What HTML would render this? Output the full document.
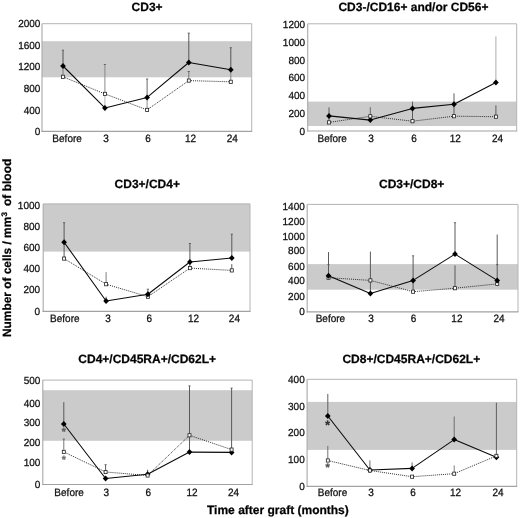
<!DOCTYPE html>
<html lang="en"><head><meta charset="utf-8"><title>Lymphocyte subsets after graft</title>
<style>
html,body{margin:0;padding:0;background:#fff;}
body{width:520px;height:518px;overflow:hidden;}
svg{display:block;filter:blur(0.4px);}
text{font-family:"Liberation Sans",sans-serif;fill:#101010;stroke:#101010;stroke-width:0.26px;text-rendering:geometricPrecision;}
.t{font-weight:bold;font-size:12px;text-anchor:middle;fill:#000;}
.yl{font-size:10px;text-anchor:end;}
.xl{font-size:10px;text-anchor:middle;}
.st{font-weight:bold;text-anchor:middle;stroke-width:0.3px;}
</style></head><body>
<svg width="520" height="518" viewBox="0 0 520 518">
<rect x="0" y="0" width="520" height="518" fill="#ffffff"/>
<g>
<rect x="42" y="41.2" width="209.7" height="36.1" fill="#cbcbcb"/>
<path d="M42 23.7H251.7V131.3" fill="none" stroke="#b4b4b4" stroke-width="1"/>
<path d="M42 23.7V131.8" fill="none" stroke="#acacac" stroke-width="1.15"/>
<path d="M41.5 131.3H252.2" fill="none" stroke="#a2a2a2" stroke-width="1.15"/>
<line x1="63" y1="50.2" x2="63" y2="66" stroke="#4a4a4a" stroke-width="0.95"/>
<line x1="63" y1="66" x2="63" y2="76.8" stroke="#707070" stroke-width="0.95"/>
<line x1="104.9" y1="64.5" x2="104.9" y2="93.9" stroke="#858585" stroke-width="0.95"/>
<line x1="104.9" y1="96" x2="104.9" y2="107.9" stroke="#b0b0b0" stroke-width="0.95"/>
<line x1="147.1" y1="79" x2="147.1" y2="97.4" stroke="#606060" stroke-width="0.95"/>
<line x1="147.1" y1="97.4" x2="147.1" y2="109.9" stroke="#888" stroke-width="0.95"/>
<line x1="188.8" y1="33.1" x2="188.8" y2="62.5" stroke="#505050" stroke-width="0.95"/>
<line x1="188.8" y1="71.5" x2="188.8" y2="80.6" stroke="#707070" stroke-width="0.95"/>
<line x1="230.8" y1="47.7" x2="230.8" y2="69.8" stroke="#505050" stroke-width="0.95"/>
<line x1="230.8" y1="69.8" x2="230.8" y2="81.8" stroke="#808080" stroke-width="0.95"/>
<line x1="61.9" y1="50.2" x2="64.1" y2="50.2" stroke="#525252" stroke-width="0.8"/>
<line x1="103.8" y1="64.5" x2="106" y2="64.5" stroke="#525252" stroke-width="0.8"/>
<line x1="146" y1="79" x2="148.2" y2="79" stroke="#525252" stroke-width="0.8"/>
<line x1="187.7" y1="33.1" x2="189.9" y2="33.1" stroke="#525252" stroke-width="0.8"/>
<line x1="187.7" y1="71.5" x2="189.9" y2="71.5" stroke="#525252" stroke-width="0.8"/>
<line x1="229.7" y1="47.7" x2="231.9" y2="47.7" stroke="#525252" stroke-width="0.8"/>
<polyline points="63,76.8 104.9,93.9 147.1,109.9 188.8,80.6 230.8,81.8" fill="none" stroke="#2c2c2c" stroke-width="0.95" stroke-dasharray="1.05 1"/>
<polyline points="63,66 104.9,107.9 147.1,97.4 188.8,62.5 230.8,69.8" fill="none" stroke="#0a0a0a" stroke-width="1.08" stroke-linejoin="round"/>
<path d="M63 63l2.85 3l-2.85 3l-2.85 -3z" fill="#000"/>
<path d="M104.9 104.9l2.85 3l-2.85 3l-2.85 -3z" fill="#000"/>
<path d="M147.1 94.4l2.85 3l-2.85 3l-2.85 -3z" fill="#000"/>
<path d="M188.8 59.5l2.85 3l-2.85 3l-2.85 -3z" fill="#000"/>
<path d="M230.8 66.8l2.85 3l-2.85 3l-2.85 -3z" fill="#000"/>
<rect x="61.5" y="75.2" width="3" height="3.2" fill="#fff" stroke="#222" stroke-width="0.8"/>
<rect x="103.4" y="92.3" width="3" height="3.2" fill="#fff" stroke="#222" stroke-width="0.8"/>
<rect x="145.6" y="108.3" width="3" height="3.2" fill="#fff" stroke="#222" stroke-width="0.8"/>
<rect x="187.3" y="79" width="3" height="3.2" fill="#fff" stroke="#222" stroke-width="0.8"/>
<rect x="229.3" y="80.2" width="3" height="3.2" fill="#fff" stroke="#222" stroke-width="0.8"/>
<text class="t" x="147.1" y="11.1">CD3+</text>
<text class="yl" transform="translate(40.4 27.42) scale(1 1.03)">2000</text>
<text class="yl" transform="translate(40.4 48.62) scale(1 1.03)">1600</text>
<text class="yl" transform="translate(40.4 70.17) scale(1 1.03)">1200</text>
<text class="yl" transform="translate(40.4 91.77) scale(1 1.03)">800</text>
<text class="yl" transform="translate(40.4 113.77) scale(1 1.03)">400</text>
<text class="yl" transform="translate(40.4 135.02) scale(1 1.03)">0</text>
<text class="xl" transform="translate(67.1 141.9) scale(1 1.065)">Before</text>
<text class="xl" transform="translate(106 141.9) scale(1 1.065)">3</text>
<text class="xl" transform="translate(148 141.9) scale(1 1.065)">6</text>
<text class="xl" transform="translate(190.5 141.9) scale(1 1.065)">12</text>
<text class="xl" transform="translate(232.3 141.9) scale(1 1.065)">24</text>
</g>
<g>
<rect x="307.7" y="101.6" width="209" height="24.4" fill="#cbcbcb"/>
<path d="M307.7 23.8H516.7V131" fill="none" stroke="#b4b4b4" stroke-width="1"/>
<path d="M307.7 23.8V131.5" fill="none" stroke="#acacac" stroke-width="1.15"/>
<path d="M307.2 131H517.2" fill="none" stroke="#a2a2a2" stroke-width="1.15"/>
<line x1="329" y1="107.4" x2="329" y2="122.2" stroke="#555" stroke-width="0.95"/>
<line x1="370.3" y1="107.2" x2="370.3" y2="120" stroke="#666" stroke-width="0.95"/>
<line x1="412.5" y1="101.6" x2="412.5" y2="121.2" stroke="#555" stroke-width="0.95"/>
<line x1="454" y1="93.4" x2="454" y2="116.2" stroke="#555" stroke-width="0.95"/>
<line x1="495.9" y1="36.4" x2="495.9" y2="82.1" stroke="#a6a6a6" stroke-width="0.95"/>
<line x1="495.9" y1="105.4" x2="495.9" y2="116.7" stroke="#555" stroke-width="0.95"/>
<polyline points="329,122.4 370.3,116.3 412.5,121.2 454,116.2 495.9,116.7" fill="none" stroke="#2c2c2c" stroke-width="0.95" stroke-dasharray="1.05 1"/>
<polyline points="329,115.9 370.3,120.1 412.5,108.4 454,104.3 495.9,82.4" fill="none" stroke="#0a0a0a" stroke-width="1.08" stroke-linejoin="round"/>
<path d="M329 112.9l2.85 3l-2.85 3l-2.85 -3z" fill="#000"/>
<path d="M370.3 117.1l2.85 3l-2.85 3l-2.85 -3z" fill="#000"/>
<path d="M412.5 105.4l2.85 3l-2.85 3l-2.85 -3z" fill="#000"/>
<path d="M454 101.3l2.85 3l-2.85 3l-2.85 -3z" fill="#000"/>
<path d="M495.9 79.4l2.85 3l-2.85 3l-2.85 -3z" fill="#000"/>
<rect x="327.5" y="120.8" width="3" height="3.2" fill="#fff" stroke="#222" stroke-width="0.8"/>
<rect x="368.8" y="114.7" width="3" height="3.2" fill="#fff" stroke="#222" stroke-width="0.8"/>
<rect x="411" y="119.6" width="3" height="3.2" fill="#fff" stroke="#222" stroke-width="0.8"/>
<rect x="452.5" y="114.6" width="3" height="3.2" fill="#fff" stroke="#222" stroke-width="0.8"/>
<rect x="494.4" y="115.1" width="3" height="3.2" fill="#fff" stroke="#222" stroke-width="0.8"/>
<text class="t" x="413.4" y="11.1">CD3-/CD16+ and/or CD56+</text>
<text class="yl" transform="translate(305.1 27.52) scale(1 1.03)">1200</text>
<text class="yl" transform="translate(305.1 45.92) scale(1 1.03)">1000</text>
<text class="yl" transform="translate(305.1 64.02) scale(1 1.03)">800</text>
<text class="yl" transform="translate(305.1 81.22) scale(1 1.03)">600</text>
<text class="yl" transform="translate(305.1 98.72) scale(1 1.03)">400</text>
<text class="yl" transform="translate(305.1 116.62) scale(1 1.03)">200</text>
<text class="yl" transform="translate(305.1 134.92) scale(1 1.03)">0</text>
<text class="xl" transform="translate(332.2 142.2) scale(1 1.065)">Before</text>
<text class="xl" transform="translate(371 142.2) scale(1 1.065)">3</text>
<text class="xl" transform="translate(414 142.2) scale(1 1.065)">6</text>
<text class="xl" transform="translate(455.3 142.2) scale(1 1.065)">12</text>
<text class="xl" transform="translate(497.5 142.2) scale(1 1.065)">24</text>
</g>
<g>
<rect x="43.2" y="203.9" width="206.8" height="47.7" fill="#cbcbcb"/>
<path d="M43.2 203.9H250V311.4" fill="none" stroke="#b4b4b4" stroke-width="1"/>
<path d="M43.2 203.9V311.9" fill="none" stroke="#acacac" stroke-width="1.15"/>
<path d="M42.7 311.4H250.5" fill="none" stroke="#a2a2a2" stroke-width="1.15"/>
<line x1="64.1" y1="222.7" x2="64.1" y2="258.6" stroke="#525252" stroke-width="0.95"/>
<line x1="106.1" y1="272.1" x2="106.1" y2="284.2" stroke="#777" stroke-width="0.95"/>
<line x1="106.1" y1="296.7" x2="106.1" y2="301" stroke="#525252" stroke-width="0.95"/>
<line x1="147.9" y1="289.2" x2="147.9" y2="296.7" stroke="#525252" stroke-width="0.95"/>
<line x1="189.9" y1="243.5" x2="189.9" y2="268.1" stroke="#525252" stroke-width="0.95"/>
<line x1="231.8" y1="234.2" x2="231.8" y2="257.8" stroke="#525252" stroke-width="0.95"/>
<line x1="231.8" y1="264.1" x2="231.8" y2="270.4" stroke="#525252" stroke-width="0.95"/>
<line x1="63" y1="222.7" x2="65.2" y2="222.7" stroke="#525252" stroke-width="0.8"/>
<line x1="188.8" y1="243.5" x2="191" y2="243.5" stroke="#525252" stroke-width="0.8"/>
<line x1="230.7" y1="234.2" x2="232.9" y2="234.2" stroke="#525252" stroke-width="0.8"/>
<line x1="146.8" y1="289.2" x2="149" y2="289.2" stroke="#525252" stroke-width="0.8"/>
<polyline points="64.1,258.6 106.1,284.2 147.9,296.7 189.9,268.1 231.8,270.4" fill="none" stroke="#2c2c2c" stroke-width="0.95" stroke-dasharray="1.05 1"/>
<polyline points="64.1,242.2 106.1,301 147.9,294.3 189.9,262 231.8,258" fill="none" stroke="#0a0a0a" stroke-width="1.08" stroke-linejoin="round"/>
<rect x="62.6" y="257" width="3" height="3.2" fill="#fff" stroke="#222" stroke-width="0.8"/>
<rect x="104.6" y="282.6" width="3" height="3.2" fill="#fff" stroke="#222" stroke-width="0.8"/>
<rect x="146.4" y="295.1" width="3" height="3.2" fill="#fff" stroke="#222" stroke-width="0.8"/>
<rect x="188.4" y="266.5" width="3" height="3.2" fill="#fff" stroke="#222" stroke-width="0.8"/>
<rect x="230.3" y="268.8" width="3" height="3.2" fill="#fff" stroke="#222" stroke-width="0.8"/>
<path d="M64.1 239.2l2.85 3l-2.85 3l-2.85 -3z" fill="#000"/>
<path d="M106.1 298l2.85 3l-2.85 3l-2.85 -3z" fill="#000"/>
<path d="M147.9 291.3l2.85 3l-2.85 3l-2.85 -3z" fill="#000"/>
<path d="M189.9 259l2.85 3l-2.85 3l-2.85 -3z" fill="#000"/>
<path d="M231.8 255l2.85 3l-2.85 3l-2.85 -3z" fill="#000"/>
<text class="t" x="147.3" y="188.4">CD3+/CD4+</text>
<text class="yl" transform="translate(40.1 209.32) scale(1 1.03)">1000</text>
<text class="yl" transform="translate(40.1 229.82) scale(1 1.03)">800</text>
<text class="yl" transform="translate(40.1 250.62) scale(1 1.03)">600</text>
<text class="yl" transform="translate(40.1 272.12) scale(1 1.03)">400</text>
<text class="yl" transform="translate(40.1 293.02) scale(1 1.03)">200</text>
<text class="yl" transform="translate(40.1 314.92) scale(1 1.03)">0</text>
<text class="xl" transform="translate(64.8 321.5) scale(1 1.065)">Before</text>
<text class="xl" transform="translate(108 321.5) scale(1 1.065)">3</text>
<text class="xl" transform="translate(149.4 321.5) scale(1 1.065)">6</text>
<text class="xl" transform="translate(193.5 321.5) scale(1 1.065)">12</text>
<text class="xl" transform="translate(234.4 321.5) scale(1 1.065)">24</text>
</g>
<g>
<rect x="307.2" y="264.1" width="210.8" height="25.6" fill="#cbcbcb"/>
<path d="M307.2 204.4H518V311.9" fill="none" stroke="#b4b4b4" stroke-width="1"/>
<path d="M307.2 204.4V312.4" fill="none" stroke="#acacac" stroke-width="1.15"/>
<path d="M306.7 311.9H518.5" fill="none" stroke="#a2a2a2" stroke-width="1.15"/>
<line x1="328.5" y1="252.1" x2="328.5" y2="277.4" stroke="#525252" stroke-width="0.95"/>
<line x1="370.4" y1="251.6" x2="370.4" y2="293.5" stroke="#525252" stroke-width="0.95"/>
<line x1="413.1" y1="255.8" x2="413.1" y2="291.7" stroke="#525252" stroke-width="0.95"/>
<line x1="455" y1="222.7" x2="455" y2="254.1" stroke="#525252" stroke-width="0.95"/>
<line x1="455" y1="265.4" x2="455" y2="288.2" stroke="#525252" stroke-width="0.95"/>
<line x1="497.2" y1="234.5" x2="497.2" y2="283.9" stroke="#525252" stroke-width="0.95"/>
<line x1="327.4" y1="264.6" x2="329.6" y2="264.6" stroke="#525252" stroke-width="0.8"/>
<line x1="412" y1="255.8" x2="414.2" y2="255.8" stroke="#525252" stroke-width="0.8"/>
<line x1="453.9" y1="222.7" x2="456.1" y2="222.7" stroke="#525252" stroke-width="0.8"/>
<line x1="496.1" y1="264.6" x2="498.3" y2="264.6" stroke="#525252" stroke-width="0.8"/>
<polyline points="328.5,277.7 370.4,280.4 413.1,291.7 455,288.2 497.2,283.9" fill="none" stroke="#2c2c2c" stroke-width="0.95" stroke-dasharray="1.05 1"/>
<polyline points="328.5,275.8 370.4,293.5 413.1,280.4 455,254.1 497.2,280.4" fill="none" stroke="#0a0a0a" stroke-width="1.08" stroke-linejoin="round"/>
<rect x="327" y="276.1" width="3" height="3.2" fill="#fff" stroke="#222" stroke-width="0.8"/>
<rect x="368.9" y="278.8" width="3" height="3.2" fill="#fff" stroke="#222" stroke-width="0.8"/>
<rect x="411.6" y="290.1" width="3" height="3.2" fill="#fff" stroke="#222" stroke-width="0.8"/>
<rect x="453.5" y="286.6" width="3" height="3.2" fill="#fff" stroke="#222" stroke-width="0.8"/>
<rect x="495.7" y="282.3" width="3" height="3.2" fill="#fff" stroke="#222" stroke-width="0.8"/>
<path d="M328.5 272.8l2.85 3l-2.85 3l-2.85 -3z" fill="#000"/>
<path d="M370.4 290.5l2.85 3l-2.85 3l-2.85 -3z" fill="#000"/>
<path d="M413.1 277.4l2.85 3l-2.85 3l-2.85 -3z" fill="#000"/>
<path d="M455 251.1l2.85 3l-2.85 3l-2.85 -3z" fill="#000"/>
<path d="M497.2 277.4l2.85 3l-2.85 3l-2.85 -3z" fill="#000"/>
<text class="t" x="411.7" y="188.4">CD3+/CD8+</text>
<text class="yl" transform="translate(304.8 209.82) scale(1 1.03)">1400</text>
<text class="yl" transform="translate(304.8 225.12) scale(1 1.03)">1200</text>
<text class="yl" transform="translate(304.8 240.22) scale(1 1.03)">1000</text>
<text class="yl" transform="translate(304.8 254.42) scale(1 1.03)">800</text>
<text class="yl" transform="translate(304.8 269.62) scale(1 1.03)">600</text>
<text class="yl" transform="translate(304.8 284.32) scale(1 1.03)">400</text>
<text class="yl" transform="translate(304.8 300.22) scale(1 1.03)">200</text>
<text class="yl" transform="translate(304.8 315.42) scale(1 1.03)">0</text>
<text class="xl" transform="translate(330.4 322.2) scale(1 1.065)">Before</text>
<text class="xl" transform="translate(371 322.2) scale(1 1.065)">3</text>
<text class="xl" transform="translate(413.5 322.2) scale(1 1.065)">6</text>
<text class="xl" transform="translate(456.9 322.2) scale(1 1.065)">12</text>
<text class="xl" transform="translate(499 322.2) scale(1 1.065)">24</text>
</g>
<g>
<rect x="42.8" y="390.2" width="209.4" height="50.6" fill="#cbcbcb"/>
<path d="M42.8 380.1H252.2V484.5" fill="none" stroke="#b4b4b4" stroke-width="1"/>
<path d="M42.8 380.1V485" fill="none" stroke="#acacac" stroke-width="1.15"/>
<path d="M42.3 484.5H252.7" fill="none" stroke="#a2a2a2" stroke-width="1.15"/>
<line x1="63.8" y1="402.2" x2="63.8" y2="424" stroke="#525252" stroke-width="0.95"/>
<line x1="63.8" y1="439.1" x2="63.8" y2="451.9" stroke="#707070" stroke-width="0.95"/>
<line x1="105.6" y1="464.7" x2="105.6" y2="472" stroke="#525252" stroke-width="0.95"/>
<line x1="147.6" y1="469.7" x2="147.6" y2="475.5" stroke="#525252" stroke-width="0.95"/>
<line x1="189.5" y1="385.9" x2="189.5" y2="452.1" stroke="#525252" stroke-width="0.95"/>
<line x1="231.6" y1="388.1" x2="231.6" y2="452.4" stroke="#525252" stroke-width="0.95"/>
<line x1="62.7" y1="439.1" x2="64.9" y2="439.1" stroke="#525252" stroke-width="0.8"/>
<line x1="104.5" y1="464.7" x2="106.7" y2="464.7" stroke="#525252" stroke-width="0.8"/>
<line x1="188.4" y1="385.9" x2="190.6" y2="385.9" stroke="#525252" stroke-width="0.8"/>
<line x1="230.5" y1="388.1" x2="232.7" y2="388.1" stroke="#525252" stroke-width="0.8"/>
<polyline points="63.8,451.9 105.6,472 147.6,475.5 189.5,435.3 231.6,449.6" fill="none" stroke="#2c2c2c" stroke-width="0.95" stroke-dasharray="1.05 1"/>
<polyline points="63.8,424 105.6,478.5 147.6,474.2 189.5,452.1 231.6,452.4" fill="none" stroke="#0a0a0a" stroke-width="1.08" stroke-linejoin="round"/>
<path d="M63.8 421l2.85 3l-2.85 3l-2.85 -3z" fill="#000"/>
<path d="M105.6 475.5l2.85 3l-2.85 3l-2.85 -3z" fill="#000"/>
<path d="M147.6 471.2l2.85 3l-2.85 3l-2.85 -3z" fill="#000"/>
<path d="M189.5 449.1l2.85 3l-2.85 3l-2.85 -3z" fill="#000"/>
<path d="M231.6 449.4l2.85 3l-2.85 3l-2.85 -3z" fill="#000"/>
<rect x="62.3" y="450.3" width="3" height="3.2" fill="#fff" stroke="#222" stroke-width="0.8"/>
<rect x="104.1" y="470.4" width="3" height="3.2" fill="#fff" stroke="#222" stroke-width="0.8"/>
<rect x="146.1" y="473.9" width="3" height="3.2" fill="#fff" stroke="#222" stroke-width="0.8"/>
<rect x="188" y="433.7" width="3" height="3.2" fill="#fff" stroke="#222" stroke-width="0.8"/>
<rect x="230.1" y="448" width="3" height="3.2" fill="#fff" stroke="#222" stroke-width="0.8"/>
<text class="st" x="63.8" y="435.42" style="fill:#606060;stroke:#606060;font-size:10.5px">*</text>
<text class="st" x="63.8" y="462.92" style="fill:#707070;stroke:#707070;font-size:10.5px">*</text>
<text class="t" x="147.2" y="362.6">CD4+/CD45RA+/CD62L+</text>
<text class="yl" transform="translate(40.4 384.32) scale(1 1.03)">500</text>
<text class="yl" transform="translate(40.4 406.52) scale(1 1.03)">400</text>
<text class="yl" transform="translate(40.4 425.52) scale(1 1.03)">300</text>
<text class="yl" transform="translate(40.4 445.62) scale(1 1.03)">200</text>
<text class="yl" transform="translate(40.4 466.42) scale(1 1.03)">100</text>
<text class="yl" transform="translate(40.4 488.42) scale(1 1.03)">0</text>
<text class="xl" transform="translate(69.1 495.7) scale(1 1.065)">Before</text>
<text class="xl" transform="translate(106.4 495.7) scale(1 1.065)">3</text>
<text class="xl" transform="translate(148.3 495.7) scale(1 1.065)">6</text>
<text class="xl" transform="translate(192 495.7) scale(1 1.065)">12</text>
<text class="xl" transform="translate(233.6 495.7) scale(1 1.065)">24</text>
</g>
<g>
<rect x="307.1" y="401.9" width="209.6" height="48" fill="#cbcbcb"/>
<path d="M307.1 379.3H516.7V486.4" fill="none" stroke="#b4b4b4" stroke-width="1"/>
<path d="M307.1 379.3V486.9" fill="none" stroke="#acacac" stroke-width="1.15"/>
<path d="M306.6 486.4H517.2" fill="none" stroke="#a2a2a2" stroke-width="1.15"/>
<line x1="327.8" y1="393.9" x2="327.8" y2="416" stroke="#5a5a5a" stroke-width="0.95"/>
<line x1="327.8" y1="445.9" x2="327.8" y2="460.5" stroke="#6a6a6a" stroke-width="0.95"/>
<line x1="369.9" y1="460.4" x2="369.9" y2="470" stroke="#666" stroke-width="0.95"/>
<line x1="412.1" y1="462.4" x2="412.1" y2="468.4" stroke="#666" stroke-width="0.95"/>
<line x1="454.2" y1="416.5" x2="454.2" y2="439.6" stroke="#6a6a6a" stroke-width="0.95"/>
<line x1="454.2" y1="465.4" x2="454.2" y2="473.7" stroke="#777" stroke-width="0.95"/>
<line x1="496.4" y1="402.7" x2="496.4" y2="457.2" stroke="#5a5a5a" stroke-width="0.95"/>
<polyline points="327.8,460.5 369.9,470.5 412.1,476.7 454.2,473.7 496.4,455.9" fill="none" stroke="#2c2c2c" stroke-width="0.95" stroke-dasharray="1.05 1"/>
<polyline points="327.8,416 369.9,470 412.1,468.4 454.2,439.6 496.4,457.2" fill="none" stroke="#0a0a0a" stroke-width="1.08" stroke-linejoin="round"/>
<path d="M327.8 413l2.85 3l-2.85 3l-2.85 -3z" fill="#000"/>
<path d="M369.9 467l2.85 3l-2.85 3l-2.85 -3z" fill="#000"/>
<path d="M412.1 465.4l2.85 3l-2.85 3l-2.85 -3z" fill="#000"/>
<path d="M454.2 436.6l2.85 3l-2.85 3l-2.85 -3z" fill="#000"/>
<path d="M496.4 454.2l2.85 3l-2.85 3l-2.85 -3z" fill="#000"/>
<rect x="326.3" y="458.9" width="3" height="3.2" fill="#fff" stroke="#222" stroke-width="0.8"/>
<rect x="368.4" y="468.9" width="3" height="3.2" fill="#fff" stroke="#222" stroke-width="0.8"/>
<rect x="410.6" y="475.1" width="3" height="3.2" fill="#fff" stroke="#222" stroke-width="0.8"/>
<rect x="452.7" y="472.1" width="3" height="3.2" fill="#fff" stroke="#222" stroke-width="0.8"/>
<rect x="494.9" y="454.3" width="3" height="3.2" fill="#fff" stroke="#222" stroke-width="0.8"/>
<text class="st" x="327.7" y="429.22" style="fill:#303030;stroke:#303030;font-size:12px">*</text>
<text class="st" x="327.7" y="471.08" style="fill:#555555;stroke:#555555;font-size:11px">*</text>
<text class="t" x="411.3" y="362.6">CD8+/CD45RA+/CD62L+</text>
<text class="yl" transform="translate(304.7 383.02) scale(1 1.03)">400</text>
<text class="yl" transform="translate(304.7 410.12) scale(1 1.03)">300</text>
<text class="yl" transform="translate(304.7 436.22) scale(1 1.03)">200</text>
<text class="yl" transform="translate(304.7 463.22) scale(1 1.03)">100</text>
<text class="yl" transform="translate(304.7 490.02) scale(1 1.03)">0</text>
<text class="xl" transform="translate(332.5 496.2) scale(1 1.065)">Before</text>
<text class="xl" transform="translate(371 496.2) scale(1 1.065)">3</text>
<text class="xl" transform="translate(413 496.2) scale(1 1.065)">6</text>
<text class="xl" transform="translate(455.5 496.2) scale(1 1.065)">12</text>
<text class="xl" transform="translate(498 496.2) scale(1 1.065)">24</text>
</g>
<text class="t" x="277.9" y="513.8">Time after graft (months)</text>
<g transform="translate(11 0) rotate(-90)" class="v">
<text class="t" x="-337" y="0" style="text-anchor:start;font-size:11.9px">Number of cells / mm</text>
<text class="t" x="-216.6" y="-4.2" style="text-anchor:start;font-size:8px">3</text>
<text class="t" x="-206" y="0" style="text-anchor:start;font-size:12px">of blood</text>
</g>
</svg>
</body></html>
